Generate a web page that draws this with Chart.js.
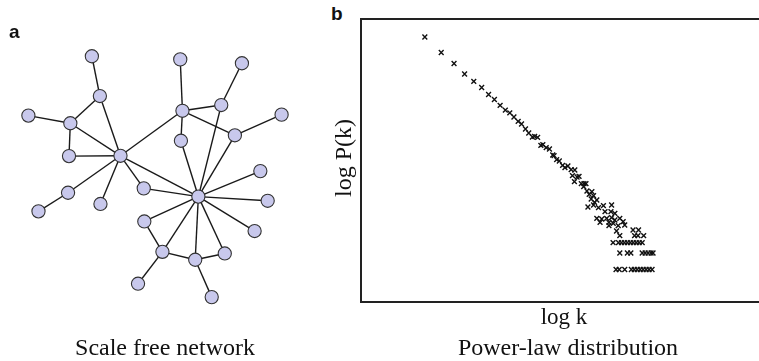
<!DOCTYPE html>
<html>
<head>
<meta charset="utf-8">
<script src="https://cdn.jsdelivr.net/npm/chart.js@4.4.1/dist/chart.umd.min.js"></script>
<style>
  body { margin: 0; width: 759px; height: 361px; overflow: hidden; background: #fff; position: relative; }
  .box { position: absolute; }
  .lbl { position: absolute; white-space: nowrap; line-height: 1; color: #111; }
  .serif { font-family: "Liberation Serif", "Times New Roman", serif; }
  .panel { font-family: "Liberation Sans", Arial, sans-serif; font-weight: bold; font-size: 19px; }
</style>
</head>
<body>
<div class="box" style="left:0;top:0;width:330px;height:361px;"><canvas id="net"></canvas></div>
<div class="box" style="left:355px;top:13px;width:410px;height:295px;"><canvas id="plaw"></canvas></div>

<div class="lbl panel" style="left:9px;top:22px;">a</div>
<div class="lbl panel" style="left:331px;top:4px;">b</div>
<div class="lbl serif" style="left:165px;top:335px;font-size:24px;transform:translateX(-50%);">Scale free network</div>
<div class="lbl serif" style="left:568px;top:335px;font-size:24px;transform:translateX(-50%);">Power-law distribution</div>
<div class="lbl serif" style="left:564px;top:305px;font-size:23px;transform:translateX(-50%);">log k</div>
<div class="lbl serif" style="left:343px;top:158px;font-size:24px;transform:translate(-50%,-50%) rotate(-90deg);">log P(k)</div>

<script>
// network layout (panel a)
const nodeX = [88.3, 96.7, 21.7, 65.7, 64.3, 118.3, 63.3, 32.3, 97.3, 142.7, 181, 245.7, 183.3, 224,
               287.3, 238.3, 181.7, 200, 265, 272.7, 259, 143.3, 162.3, 196.7, 227.7, 136.7, 214];
const nodeY = [50.7, 92.3, 112.7, 120.7, 155, 154.7, 193.3, 212.7, 205, 188.7, 54, 58, 107.7, 101.7,
               111.7, 133.3, 139, 197.3, 170.7, 201.7, 233.3, 223.3, 255, 263.3, 256.7, 288.3, 302.3];
const edgeFrom = [0, 1, 1, 2, 3, 3, 4, 5, 6, 5, 5, 5, 5, 9, 10, 12, 11, 12, 14, 12, 13, 15, 16, 17, 17, 17, 17, 21, 17, 17, 17, 22, 23, 22, 23];
const edgeTo   = [1, 3, 5, 3, 4, 5, 5, 6, 7, 8, 9, 12, 17, 17, 12, 13, 13, 15, 15, 16, 17, 17, 17, 18, 19, 20, 21, 22, 22, 23, 24, 23, 24, 25, 26];

// degree distribution (panel b), log k vs log P(k), arbitrary units
const logK = [64.7, 81.3, 94.3, 105, 114.3, 122.3, 129.3, 135.2, 141, 146.3, 150.8, 155, 159.3, 162.7, 166.7, 170,
  173.7, 176, 179, 182.3, 184.3, 187.7, 191, 194.3, 195.7, 198.3, 201, 204.3, 206.7, 209.7, 213, 216.7, 214.3, 219,
  221, 216.3, 223.3, 226, 228, 225.7, 229, 234, 231.3, 235.7, 233.3, 239, 236.7, 230, 235.7, 240.7, 245.7, 254,
  247.3, 253.3, 257.3, 239, 244, 249, 254, 257.3, 242.3, 251.3, 255.7, 262.3, 265.7, 260.7, 267.3, 251.3, 259,
  275.7, 281.3, 262.3, 277.3, 280.7, 286.5, 255.5,
  261, 264, 267, 270, 273, 276, 279, 282, 285,
  262.3, 270, 273.5, 285, 288, 291, 294, 296,
  258.5, 261.7, 267.3, 274, 277, 280, 283, 286, 289, 292, 295];
const logP = [265, 249.5, 238.5, 228, 220.7, 214.5, 207.5, 202.5, 196.7, 191.8, 189.2, 185, 180.7, 178, 173, 169,
  165, 165.7, 164.7, 156.7, 157.3, 154.3, 153, 147, 146.3, 142.3, 141, 136.7, 134.3, 136, 132.3, 132, 126.3, 125,
  125.7, 120.3, 118.3, 118.3, 118.3, 115.3, 111, 110.3, 107.7, 106.3, 103, 102, 99.7, 95, 97, 94.3, 96.3, 97,
  90.3, 90.3, 88.7, 83.7, 83, 83.7, 84.3, 82, 79.7, 79.7, 78.7, 83.7, 80.3, 76.3, 77, 76.3, 71,
  72, 72, 66.3, 66.3, 66.3, 66.3, 59.3,
  59.3, 59.3, 59.3, 59.3, 59.3, 59.3, 59.3, 59.3, 59.3,
  49, 49, 49, 49, 49, 49, 49, 49,
  32.5, 32.5, 32.5, 32.5, 32.5, 32.5, 32.5, 32.5, 32.5, 32.5, 32.5];

const nodes = nodeX.map((x, i) => ({ x: x, y: nodeY[i] }));

let datasets = [{
    data: nodes,
    order: 0,
    showLine: false,
    pointRadius: 6.6,
    pointBackgroundColor: 'rgb(200, 200, 236)',
    pointBorderColor: '#333',
    pointBorderWidth: 1.1
}];
for (let i = 0; i < edgeFrom.length; i++) {
    datasets.push({
        data: [nodes[edgeFrom[i]], nodes[edgeTo[i]]],
        order: 1,
        showLine: true,
        borderColor: '#1a1a1a',
        borderWidth: 1.4,
        pointRadius: 0
    });
}

new Chart(document.getElementById('net'), {
    type: 'scatter',
    data: { datasets },
    options: {
        responsive: true,
        maintainAspectRatio: false,
        animation: false,
        events: [],
        layout: { padding: 0 },
        plugins: { legend: { display: false }, tooltip: { enabled: false } },
        scales: {
            x: { display: false, min: 0, max: 330 },
            y: { display: false, min: 0, max: 361, reverse: true }
        }
    }
});

// frame on left, top, bottom (right side runs off the picture)
const frame = {
    id: 'frame',
    afterDraw(chart) {
        const a = chart.chartArea;
        const ctx = chart.ctx;
        ctx.save();
        ctx.strokeStyle = '#222';
        ctx.lineWidth = 2;
        ctx.beginPath();
        ctx.moveTo(chart.width + 5, a.top);
        ctx.lineTo(a.left, a.top);
        ctx.lineTo(a.left, a.bottom);
        ctx.lineTo(chart.width + 5, a.bottom);
        ctx.stroke();
        ctx.restore();
    }
};

new Chart(document.getElementById('plaw'), {
    type: 'scatter',
    data: {
        datasets: [{
            data: logK.map((k, i) => ({ x: k, y: logP[i] })),
            pointStyle: 'crossRot',
            pointRadius: 3.4,
            borderColor: '#111',
            pointBorderWidth: 1.4
        }]
    },
    options: {
        responsive: true,
        maintainAspectRatio: false,
        animation: false,
        events: [],
        layout: { padding: { left: 6, top: 6, bottom: 6, right: 0 } },
        plugins: { legend: { display: false }, tooltip: { enabled: false } },
        scales: {
            x: { display: false, min: 0, max: 404 },
            y: { display: false, min: 0, max: 283 }
        }
    },
    plugins: [frame]
});
</script>
</body>
</html>
